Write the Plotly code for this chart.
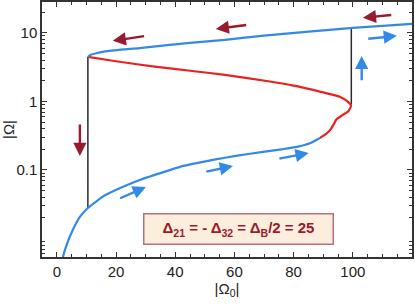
import plotly.graph_objects as go
import numpy as np

# ---- data ----
lower_x = [1.6, 2.0, 3.5, 5.4, 7.8, 10.5, 16, 22, 28, 35, 41.6, 52.7, 61, 69.6, 76, 81.1, 85.5, 88.9]
lower_y = [0.0040, 0.0052, 0.0085, 0.0133, 0.0206, 0.0279, 0.042, 0.056, 0.0714, 0.090, 0.111, 0.140, 0.162, 0.183, 0.200, 0.217, 0.245, 0.293]

red_x = [88.9, 91.0, 92.5, 93.5, 94.5, 96.5, 98.5, 99.4, 98.3, 95.6, 88.9, 80, 72, 56.8, 45, 33, 20, 10.5]
red_y = [0.293, 0.335, 0.39, 0.46, 0.55, 0.63, 0.72, 0.86, 0.99, 1.17, 1.39, 1.70, 1.95, 2.44, 2.80, 3.22, 3.85, 4.45]

upper_x = [10.5, 11.3, 13, 17, 28, 45, 56.8, 70, 100, 120]
upper_y = [4.45, 4.75, 5.0, 5.4, 6.0, 7.15, 7.9, 9.1, 11.8, 13.5]

jump_low_x = [10.5, 10.5]
jump_low_y = [0.0279, 4.45]
jump_high_x = [99.5, 99.5]
jump_high_y = [0.90, 11.8]

# arrows: (tail_x, tail_y, head_x, head_y)
red_arrows = [
    (30, 9.04, 18.9, 7.64),
    (64.5, 13.1, 53.7, 11.4),
    (113.5, 18.3, 103.4, 16.6),
    (7.8, 0.485, 7.8, 0.160),
]
blue_arrows = [
    (20.9, 0.0378, 30.1, 0.0565),
    (50, 0.0935, 59.5, 0.114),
    (74.7, 0.145, 85.1, 0.177),
    (103, 1.93, 103, 4.61),
    (104.7, 8.17, 114.9, 9.04),
]

x_ticks = [0, 20, 40, 60, 80, 100]
y_ticks = [0.1, 1, 10]
y_ticklabels = ["0.1", "1", "10"]

BLUE = "#3389E8"
RED = "#E8231F"
DARK_RED = "#981A2E"

fig = go.Figure()
fig.add_trace(go.Scatter(x=jump_low_x, y=jump_low_y, mode="lines",
                         line=dict(color="#2a2a2a", width=1.5)))
fig.add_trace(go.Scatter(x=jump_high_x, y=jump_high_y, mode="lines",
                         line=dict(color="#2a2a2a", width=1.5)))
fig.add_trace(go.Scatter(x=lower_x, y=lower_y, mode="lines",
                         line=dict(color=BLUE, width=2.2, shape="spline", smoothing=0.5)))
fig.add_trace(go.Scatter(x=red_x, y=red_y, mode="lines",
                         line=dict(color=RED, width=2.2, shape="spline", smoothing=0.5)))
fig.add_trace(go.Scatter(x=upper_x, y=upper_y, mode="lines",
                         line=dict(color=BLUE, width=2.2, shape="spline", smoothing=0.5)))

for arrows, col in ((red_arrows, DARK_RED), (blue_arrows, BLUE)):
    for tx, ty, hx, hy in arrows:
        fig.add_annotation(x=hx, y=np.log10(hy), ax=tx, ay=np.log10(ty),
                           xref="x", yref="y", axref="x", ayref="y",
                           showarrow=True, arrowhead=2, arrowsize=1.1,
                           arrowwidth=2.4, arrowcolor=col, text="")

fig.add_annotation(x=0.53, y=0.11, xref="paper", yref="paper",
                   xanchor="center", yanchor="middle",
                   text="<b>Δ<sub>21</sub> = - Δ<sub>32</sub> = Δ<sub>B</sub>/2 = 25</b>",
                   showarrow=False, font=dict(color=DARK_RED, size=15,
                                              family="Liberation Sans, Arial"),
                   bgcolor="#FCEEDC", bordercolor="#B9707B", borderwidth=1.5,
                   width=186, height=27)

axis_common = dict(showline=True, linecolor="#333", linewidth=1.5, mirror="ticks",
                   ticks="inside", tickcolor="#333", showgrid=False, zeroline=False,
                   automargin=False,
                   tickfont=dict(size=15, color="#222", family="Liberation Sans, Arial"))

fig.update_xaxes(range=[-5, 120], tickvals=x_ticks, ticklen=5,
                 minor=dict(ticks="inside", dtick=5, ticklen=3, tickcolor="#333"),
                 title=dict(text="|Ω<sub>0</sub>|", font=dict(size=15, color="#222"), standoff=4),
                 **axis_common)
fig.update_yaxes(type="log", range=[-2.27, 1.45], tickvals=y_ticks, ticktext=y_ticklabels,
                 ticklen=5,
                 minor=dict(ticks="inside", ticklen=3, tickcolor="#333",
                            tickvals=[v * m for v in [0.001, 0.01, 0.1, 1, 10] for m in range(2, 10)]),
                 title=dict(text="|Ω|", font=dict(size=15, color="#222"), standoff=8),
                 **axis_common)

fig.update_layout(width=415, height=306, showlegend=False,
                  margin=dict(l=42, r=3, t=2, b=49),
                  plot_bgcolor="white", paper_bgcolor="white",
                  font=dict(family="Liberation Sans, Arial"))

fig.write_html("out.html", config={"displayModeBar": False},
               post_script="document.body.style.margin='0';")
